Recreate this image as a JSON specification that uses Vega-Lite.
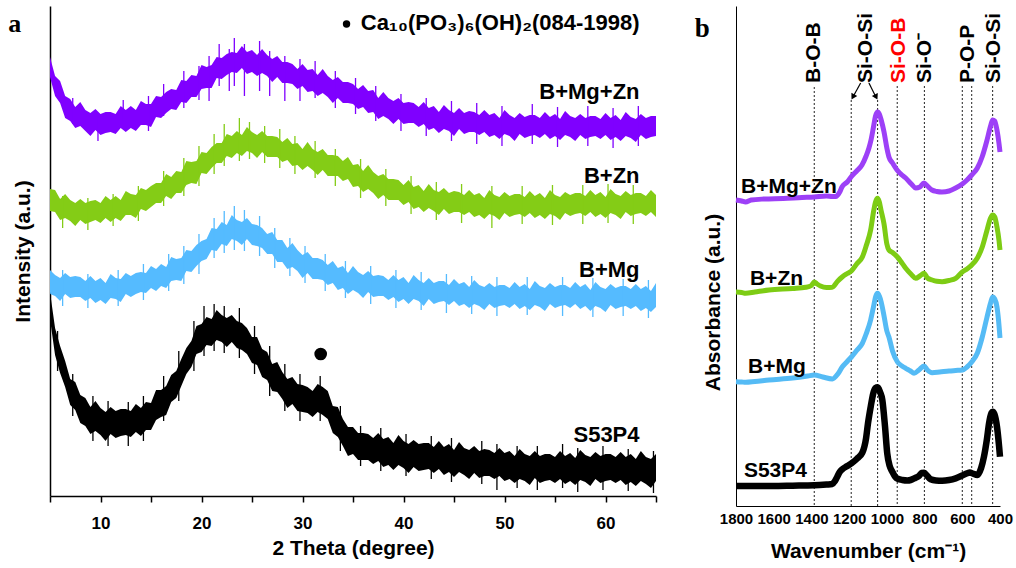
{
"$schema": "https://vega.github.io/schema/vega-lite/v6.json",
"padding": {"left": 8, "top": 6, "right": 5, "bottom": 5},
"bounds": "flush",
"spacing": 80,
"config": {"view": {"stroke": null}, "font": "Liberation Sans",
  "axis": {"domainColor": "black", "labelColor": "black", "titleColor": "black", "labelFont": "Liberation Sans", "titleFont": "Liberation Sans", "labelFontWeight": "bold", "titleFontWeight": "bold", "grid": false, "labelFlush": false}},
"datasets": {
"xP": [{"t":5,"v":419,"v2":439},{"t":5.5,"v":400,"v2":420},{"t":6,"v":393,"v2":415},{"t":6.5,"v":378,"v2":400},{"t":7,"v":375,"v2":397},{"t":7.5,"v":368,"v2":389},{"t":8,"v":370,"v2":394},{"t":8.5,"v":365,"v2":386},{"t":9,"v":360,"v2":383},{"t":9.5,"v":366,"v2":387},{"t":10,"v":361,"v2":382},{"t":10.5,"v":363,"v2":384},{"t":11,"v":364,"v2":384},{"t":11.5,"v":362,"v2":382},{"t":12,"v":368,"v2":390},{"t":12.5,"v":364,"v2":386},{"t":13,"v":368,"v2":390},{"t":13.5,"v":365,"v2":386},{"t":14,"v":371,"v2":395},{"t":14.5,"v":371,"v2":392},{"t":15,"v":369,"v2":392},{"t":15.5,"v":379,"v2":400},{"t":16,"v":378,"v2":399},{"t":16.5,"v":383,"v2":404},{"t":17,"v":387,"v2":407},{"t":17.5,"v":386,"v2":406},{"t":18,"v":394,"v2":416},{"t":18.5,"v":393,"v2":415},{"t":19,"v":399,"v2":421},{"t":19.5,"v":399,"v2":420},{"t":20,"v":407,"v2":431},{"t":20.5,"v":408,"v2":429},{"t":21,"v":408,"v2":431},{"t":21.5,"v":418,"v2":439},{"t":22,"v":417,"v2":438},{"t":22.5,"v":421,"v2":442},{"t":23,"v":424,"v2":444},{"t":23.5,"v":423,"v2":443},{"t":24,"v":428,"v2":450},{"t":24.5,"v":422,"v2":444},{"t":25,"v":424,"v2":446},{"t":25.5,"v":420,"v2":441},{"t":26,"v":423,"v2":447},{"t":26.5,"v":420,"v2":441},{"t":27,"v":414,"v2":437},{"t":27.5,"v":419,"v2":440},{"t":28,"v":413,"v2":434},{"t":28.5,"v":413,"v2":434},{"t":29,"v":412,"v2":432},{"t":29.5,"v":407,"v2":427},{"t":30,"v":410,"v2":432},{"t":30.5,"v":404,"v2":426},{"t":31,"v":405,"v2":427},{"t":31.5,"v":400,"v2":421},{"t":32,"v":403,"v2":427},{"t":32.5,"v":399,"v2":420},{"t":33,"v":393,"v2":416},{"t":33.5,"v":398,"v2":419},{"t":34,"v":393,"v2":414},{"t":34.5,"v":393,"v2":414},{"t":35,"v":392,"v2":412},{"t":35.5,"v":387,"v2":407},{"t":36,"v":389,"v2":411},{"t":36.5,"v":383,"v2":405},{"t":37,"v":384,"v2":406},{"t":37.5,"v":377,"v2":398},{"t":38,"v":380,"v2":404},{"t":38.5,"v":377,"v2":398},{"t":39,"v":372,"v2":395},{"t":39.5,"v":377,"v2":398},{"t":40,"v":372,"v2":393},{"t":40.5,"v":373,"v2":394},{"t":41,"v":373,"v2":393},{"t":41.5,"v":369,"v2":389},{"t":42,"v":372,"v2":394},{"t":42.5,"v":366,"v2":388},{"t":43,"v":368,"v2":390},{"t":43.5,"v":363,"v2":384},{"t":44,"v":367,"v2":391},{"t":44.5,"v":365,"v2":386},{"t":45,"v":360,"v2":383},{"t":45.5,"v":367,"v2":388},{"t":46,"v":362,"v2":383},{"t":46.5,"v":364,"v2":385},{"t":47,"v":364,"v2":384},{"t":47.5,"v":361,"v2":381},{"t":48,"v":364,"v2":386},{"t":48.5,"v":359,"v2":381},{"t":49,"v":361,"v2":383},{"t":49.5,"v":357,"v2":378},{"t":50,"v":362,"v2":386},{"t":50.5,"v":360,"v2":381},{"t":51,"v":355,"v2":378},{"t":51.5,"v":362,"v2":383},{"t":52,"v":358,"v2":379},{"t":52.5,"v":360,"v2":381},{"t":53,"v":361,"v2":381},{"t":53.5,"v":358,"v2":378},{"t":54,"v":362,"v2":384},{"t":54.5,"v":357,"v2":379},{"t":55,"v":360,"v2":382},{"t":55.5,"v":356,"v2":377},{"t":56,"v":361,"v2":385},{"t":56.5,"v":359,"v2":380},{"t":57,"v":355,"v2":378},{"t":57.5,"v":361,"v2":382},{"t":58,"v":357,"v2":378},{"t":58.5,"v":359,"v2":380},{"t":59,"v":360,"v2":380},{"t":59.5,"v":357,"v2":377},{"t":60,"v":361,"v2":383},{"t":60.5,"v":356,"v2":378},{"t":61,"v":359,"v2":381},{"t":61.5,"v":355,"v2":376},{"t":62,"v":360,"v2":384},{"t":62.5,"v":358,"v2":379},{"t":63,"v":354,"v2":377},{"t":63.5,"v":361,"v2":382},{"t":64,"v":357,"v2":378},{"t":64.5,"v":359,"v2":380},{"t":65,"v":360,"v2":380}],
"xG": [{"t":5,"v":285,"v2":307},{"t":5.5,"v":284,"v2":306},{"t":6,"v":276,"v2":297},{"t":6.5,"v":278,"v2":302},{"t":7,"v":275,"v2":296},{"t":7.5,"v":270,"v2":293},{"t":8,"v":276,"v2":297},{"t":8.5,"v":272,"v2":293},{"t":9,"v":274,"v2":295},{"t":9.5,"v":276,"v2":296},{"t":10,"v":273,"v2":293},{"t":10.5,"v":278,"v2":300},{"t":11,"v":274,"v2":296},{"t":11.5,"v":278,"v2":300},{"t":12,"v":275,"v2":296},{"t":12.5,"v":281,"v2":305},{"t":13,"v":281,"v2":302},{"t":13.5,"v":278,"v2":301},{"t":14,"v":287,"v2":308},{"t":14.5,"v":285,"v2":306},{"t":15,"v":289,"v2":310},{"t":15.5,"v":293,"v2":313},{"t":16,"v":293,"v2":313},{"t":16.5,"v":300,"v2":322},{"t":17,"v":297,"v2":319},{"t":17.5,"v":303,"v2":325},{"t":18,"v":303,"v2":324},{"t":18.5,"v":311,"v2":335},{"t":19,"v":313,"v2":334},{"t":19.5,"v":312,"v2":335},{"t":20,"v":323,"v2":344},{"t":20.5,"v":322,"v2":343},{"t":21,"v":328,"v2":349},{"t":21.5,"v":333,"v2":353},{"t":22,"v":333,"v2":353},{"t":22.5,"v":340,"v2":362},{"t":23,"v":338,"v2":360},{"t":23.5,"v":343,"v2":365},{"t":24,"v":340,"v2":361},{"t":24.5,"v":345,"v2":369},{"t":25,"v":343,"v2":364},{"t":25.5,"v":338,"v2":361},{"t":26,"v":344,"v2":365},{"t":26.5,"v":339,"v2":360},{"t":27,"v":339,"v2":360},{"t":27.5,"v":339,"v2":359},{"t":28,"v":334,"v2":354},{"t":28.5,"v":336,"v2":358},{"t":29,"v":330,"v2":352},{"t":29.5,"v":331,"v2":353},{"t":30,"v":326,"v2":347},{"t":30.5,"v":330,"v2":354},{"t":31,"v":326,"v2":347},{"t":31.5,"v":321,"v2":344},{"t":32,"v":326,"v2":347},{"t":32.5,"v":320,"v2":341},{"t":33,"v":320,"v2":341},{"t":33.5,"v":320,"v2":340},{"t":34,"v":315,"v2":335},{"t":34.5,"v":317,"v2":339},{"t":35,"v":309,"v2":331},{"t":35.5,"v":310,"v2":332},{"t":36,"v":304,"v2":325},{"t":36.5,"v":307,"v2":331},{"t":37,"v":303,"v2":324},{"t":37.5,"v":297,"v2":320},{"t":38,"v":301,"v2":322},{"t":38.5,"v":296,"v2":317},{"t":39,"v":296,"v2":317},{"t":39.5,"v":296,"v2":316},{"t":40,"v":291,"v2":311},{"t":40.5,"v":294,"v2":316},{"t":41,"v":287,"v2":309},{"t":41.5,"v":289,"v2":311},{"t":42,"v":284,"v2":305},{"t":42.5,"v":288,"v2":312},{"t":43,"v":285,"v2":306},{"t":43.5,"v":281,"v2":304},{"t":44,"v":287,"v2":308},{"t":44.5,"v":282,"v2":303},{"t":45,"v":284,"v2":305},{"t":45.5,"v":284,"v2":304},{"t":46,"v":281,"v2":301},{"t":46.5,"v":284,"v2":306},{"t":47,"v":279,"v2":301},{"t":47.5,"v":281,"v2":303},{"t":48,"v":277,"v2":298},{"t":48.5,"v":282,"v2":306},{"t":49,"v":280,"v2":301},{"t":49.5,"v":276,"v2":299},{"t":50,"v":283,"v2":304},{"t":50.5,"v":279,"v2":300},{"t":51,"v":281,"v2":302},{"t":51.5,"v":282,"v2":302},{"t":52,"v":279,"v2":299},{"t":52.5,"v":283,"v2":305},{"t":53,"v":278,"v2":300},{"t":53.5,"v":281,"v2":303},{"t":54,"v":277,"v2":298},{"t":54.5,"v":282,"v2":306},{"t":55,"v":280,"v2":301},{"t":55.5,"v":276,"v2":299},{"t":56,"v":283,"v2":304},{"t":56.5,"v":280,"v2":301},{"t":57,"v":282,"v2":303},{"t":57.5,"v":283,"v2":303},{"t":58,"v":280,"v2":300},{"t":58.5,"v":284,"v2":306},{"t":59,"v":279,"v2":301},{"t":59.5,"v":282,"v2":304},{"t":60,"v":278,"v2":299},{"t":60.5,"v":283,"v2":307},{"t":61,"v":281,"v2":302},{"t":61.5,"v":277,"v2":300},{"t":62,"v":284,"v2":305},{"t":62.5,"v":280,"v2":301},{"t":63,"v":282,"v2":303},{"t":63.5,"v":283,"v2":303},{"t":64,"v":280,"v2":300},{"t":64.5,"v":284,"v2":306},{"t":65,"v":279,"v2":301}],
"xB": [{"t":5,"v":202,"v2":226},{"t":5.5,"v":200,"v2":221},{"t":6,"v":195,"v2":218},{"t":6.5,"v":202,"v2":223},{"t":7,"v":198,"v2":219},{"t":7.5,"v":199,"v2":220},{"t":8,"v":199,"v2":219},{"t":8.5,"v":195,"v2":215},{"t":9,"v":198,"v2":220},{"t":9.5,"v":193,"v2":215},{"t":10,"v":196,"v2":218},{"t":10.5,"v":192,"v2":213},{"t":11,"v":198,"v2":222},{"t":11.5,"v":197,"v2":218},{"t":12,"v":194,"v2":217},{"t":12.5,"v":202,"v2":223},{"t":13,"v":199,"v2":220},{"t":13.5,"v":202,"v2":223},{"t":14,"v":204,"v2":224},{"t":14.5,"v":203,"v2":223},{"t":15,"v":208,"v2":230},{"t":15.5,"v":205,"v2":227},{"t":16,"v":210,"v2":232},{"t":16.5,"v":208,"v2":229},{"t":17,"v":215,"v2":239},{"t":17.5,"v":216,"v2":237},{"t":18,"v":215,"v2":238},{"t":18.5,"v":225,"v2":246},{"t":19,"v":224,"v2":245},{"t":19.5,"v":230,"v2":251},{"t":20,"v":235,"v2":255},{"t":20.5,"v":237,"v2":257},{"t":21,"v":246,"v2":268},{"t":21.5,"v":245,"v2":267},{"t":22,"v":252,"v2":274},{"t":22.5,"v":250,"v2":271},{"t":23,"v":257,"v2":281},{"t":23.5,"v":255,"v2":276},{"t":24,"v":251,"v2":274},{"t":24.5,"v":257,"v2":278},{"t":25,"v":251,"v2":272},{"t":25.5,"v":250,"v2":271},{"t":26,"v":248,"v2":268},{"t":26.5,"v":242,"v2":262},{"t":27,"v":242,"v2":264},{"t":27.5,"v":234,"v2":256},{"t":28,"v":234,"v2":256},{"t":28.5,"v":227,"v2":248},{"t":29,"v":229,"v2":253},{"t":29.5,"v":225,"v2":246},{"t":30,"v":218,"v2":241},{"t":30.5,"v":223,"v2":244},{"t":31,"v":217,"v2":238},{"t":31.5,"v":217,"v2":238},{"t":32,"v":216,"v2":236},{"t":32.5,"v":211,"v2":231},{"t":33,"v":213,"v2":235},{"t":33.5,"v":206,"v2":228},{"t":34,"v":208,"v2":230},{"t":34.5,"v":202,"v2":223},{"t":35,"v":206,"v2":230},{"t":35.5,"v":203,"v2":224},{"t":36,"v":198,"v2":221},{"t":36.5,"v":204,"v2":225},{"t":37,"v":199,"v2":220},{"t":37.5,"v":200,"v2":221},{"t":38,"v":200,"v2":220},{"t":38.5,"v":196,"v2":216},{"t":39,"v":199,"v2":221},{"t":39.5,"v":194,"v2":216},{"t":40,"v":197,"v2":219},{"t":40.5,"v":192,"v2":213},{"t":41,"v":197,"v2":221},{"t":41.5,"v":195,"v2":216},{"t":42,"v":190,"v2":213},{"t":42.5,"v":197,"v2":218},{"t":43,"v":192,"v2":213},{"t":43.5,"v":194,"v2":215},{"t":44,"v":195,"v2":215},{"t":44.5,"v":191,"v2":211},{"t":45,"v":195,"v2":217},{"t":45.5,"v":190,"v2":212},{"t":46,"v":192,"v2":214},{"t":46.5,"v":188,"v2":209},{"t":47,"v":192,"v2":216},{"t":47.5,"v":190,"v2":211},{"t":48,"v":186,"v2":209},{"t":48.5,"v":192,"v2":213},{"t":49,"v":188,"v2":209},{"t":49.5,"v":190,"v2":211},{"t":50,"v":191,"v2":211},{"t":50.5,"v":188,"v2":208},{"t":51,"v":192,"v2":214},{"t":51.5,"v":187,"v2":209},{"t":52,"v":190,"v2":212},{"t":52.5,"v":186,"v2":207},{"t":53,"v":191,"v2":215},{"t":53.5,"v":189,"v2":210},{"t":54,"v":185,"v2":208},{"t":54.5,"v":192,"v2":213},{"t":55,"v":188,"v2":209},{"t":55.5,"v":190,"v2":211},{"t":56,"v":191,"v2":211},{"t":56.5,"v":188,"v2":208},{"t":57,"v":192,"v2":214},{"t":57.5,"v":187,"v2":209},{"t":58,"v":190,"v2":212},{"t":58.5,"v":185,"v2":206},{"t":59,"v":190,"v2":214},{"t":59.5,"v":188,"v2":209},{"t":60,"v":184,"v2":207},{"t":60.5,"v":191,"v2":212},{"t":61,"v":187,"v2":208},{"t":61.5,"v":189,"v2":210},{"t":62,"v":190,"v2":210},{"t":62.5,"v":187,"v2":207},{"t":63,"v":190,"v2":212},{"t":63.5,"v":185,"v2":207},{"t":64,"v":188,"v2":210},{"t":64.5,"v":184,"v2":205},{"t":65,"v":189,"v2":213}],
"xK": [{"t":5,"v":177,"v2":204},{"t":5.5,"v":141,"v2":168},{"t":6,"v":123,"v2":150},{"t":6.5,"v":109,"v2":135},{"t":7,"v":91,"v2":117},{"t":7.5,"v":86,"v2":114},{"t":8,"v":73,"v2":101},{"t":8.5,"v":70,"v2":98},{"t":9,"v":62,"v2":89},{"t":9.5,"v":65,"v2":95},{"t":10,"v":61,"v2":88},{"t":10.5,"v":55,"v2":84},{"t":11,"v":62,"v2":89},{"t":11.5,"v":58,"v2":85},{"t":12,"v":60,"v2":87},{"t":12.5,"v":61,"v2":87},{"t":13,"v":59,"v2":85},{"t":13.5,"v":64,"v2":92},{"t":14,"v":60,"v2":88},{"t":14.5,"v":66,"v2":94},{"t":15,"v":66,"v2":93},{"t":15.5,"v":76,"v2":106},{"t":16,"v":79,"v2":106},{"t":16.5,"v":81,"v2":110},{"t":17,"v":94,"v2":121},{"t":17.5,"v":98,"v2":125},{"t":18,"v":110,"v2":137},{"t":18.5,"v":122,"v2":148},{"t":19,"v":129,"v2":155},{"t":19.5,"v":142,"v2":170},{"t":20,"v":144,"v2":172},{"t":20.5,"v":151,"v2":179},{"t":21,"v":150,"v2":177},{"t":21.5,"v":156,"v2":186},{"t":22,"v":154,"v2":181},{"t":22.5,"v":149,"v2":178},{"t":23,"v":154,"v2":181},{"t":23.5,"v":148,"v2":175},{"t":24,"v":146,"v2":173},{"t":24.5,"v":142,"v2":168},{"t":25,"v":133,"v2":159},{"t":25.5,"v":131,"v2":159},{"t":26,"v":119,"v2":147},{"t":26.5,"v":116,"v2":144},{"t":27,"v":105,"v2":132},{"t":27.5,"v":104,"v2":134},{"t":28,"v":97,"v2":124},{"t":28.5,"v":88,"v2":117},{"t":29,"v":92,"v2":119},{"t":29.5,"v":85,"v2":112},{"t":30,"v":84,"v2":111},{"t":30.5,"v":83,"v2":109},{"t":31,"v":79,"v2":105},{"t":31.5,"v":84,"v2":112},{"t":32,"v":81,"v2":109},{"t":32.5,"v":77,"v2":105},{"t":33,"v":63,"v2":90},{"t":33.5,"v":59,"v2":89},{"t":34,"v":50,"v2":77},{"t":34.5,"v":40,"v2":69},{"t":35,"v":42,"v2":69},{"t":35.5,"v":36,"v2":63},{"t":36,"v":36,"v2":63},{"t":36.5,"v":36,"v2":62},{"t":37,"v":32,"v2":58},{"t":37.5,"v":35,"v2":63},{"t":38,"v":29,"v2":57},{"t":38.5,"v":31,"v2":59},{"t":39,"v":26,"v2":53},{"t":39.5,"v":31,"v2":61},{"t":40,"v":28,"v2":55},{"t":40.5,"v":23,"v2":52},{"t":41,"v":29,"v2":56},{"t":41.5,"v":25,"v2":52},{"t":42,"v":26,"v2":53},{"t":42.5,"v":27,"v2":53},{"t":43,"v":23,"v2":49},{"t":43.5,"v":27,"v2":55},{"t":44,"v":21,"v2":49},{"t":44.5,"v":24,"v2":52},{"t":45,"v":19,"v2":46},{"t":45.5,"v":24,"v2":54},{"t":46,"v":21,"v2":48},{"t":46.5,"v":17,"v2":46},{"t":47,"v":23,"v2":50},{"t":47.5,"v":18,"v2":45},{"t":48,"v":20,"v2":47},{"t":48.5,"v":20,"v2":46},{"t":49,"v":17,"v2":43},{"t":49.5,"v":20,"v2":48},{"t":50,"v":15,"v2":43},{"t":50.5,"v":17,"v2":45},{"t":51,"v":13,"v2":40},{"t":51.5,"v":17,"v2":47},{"t":52,"v":15,"v2":42},{"t":52.5,"v":11,"v2":40},{"t":53,"v":18,"v2":45},{"t":53.5,"v":13,"v2":40},{"t":54,"v":15,"v2":42},{"t":54.5,"v":16,"v2":42},{"t":55,"v":13,"v2":39},{"t":55.5,"v":17,"v2":45},{"t":56,"v":12,"v2":40},{"t":56.5,"v":15,"v2":43},{"t":57,"v":11,"v2":38},{"t":57.5,"v":16,"v2":46},{"t":58,"v":14,"v2":41},{"t":58.5,"v":10,"v2":39},{"t":59,"v":17,"v2":44},{"t":59.5,"v":13,"v2":40},{"t":60,"v":15,"v2":42},{"t":60.5,"v":16,"v2":42},{"t":61,"v":13,"v2":39},{"t":61.5,"v":16,"v2":44},{"t":62,"v":11,"v2":39},{"t":62.5,"v":14,"v2":42},{"t":63,"v":10,"v2":37},{"t":63.5,"v":15,"v2":45},{"t":64,"v":12,"v2":39},{"t":64.5,"v":8,"v2":37},{"t":65,"v":15,"v2":42}],
"sP": [{"t":7.25,"v":372,"v2":398},{"t":9.75,"v":355,"v2":380},{"t":12.25,"v":372,"v2":396},{"t":14.75,"v":365,"v2":400},{"t":16.25,"v":380,"v2":412},{"t":18.25,"v":388,"v2":425},{"t":19.75,"v":396,"v2":430},{"t":20.75,"v":395,"v2":440},{"t":21.75,"v":410,"v2":452},{"t":22.75,"v":405,"v2":447},{"t":23.25,"v":410,"v2":458},{"t":24.25,"v":400,"v2":452},{"t":25.75,"v":405,"v2":455},{"t":26.75,"v":400,"v2":445},{"t":28.25,"v":395,"v2":440},{"t":29.75,"v":395,"v2":437},{"t":31.25,"v":398,"v2":435},{"t":33.25,"v":388,"v2":425},{"t":35.25,"v":382,"v2":418},{"t":37.25,"v":375,"v2":410},{"t":39.75,"v":365,"v2":402},{"t":42.25,"v":360,"v2":398},{"t":44.75,"v":355,"v2":395},{"t":47.25,"v":352,"v2":393},{"t":49.75,"v":350,"v2":390},{"t":52.75,"v":352,"v2":392},{"t":55.25,"v":349,"v2":389},{"t":58.25,"v":350,"v2":390},{"t":60.75,"v":348,"v2":388},{"t":63.25,"v":350,"v2":390}],
"sG": [{"t":6.25,"v":268,"v2":300},{"t":8.75,"v":266,"v2":298},{"t":11.25,"v":270,"v2":302},{"t":13.75,"v":275,"v2":310},{"t":16.25,"v":290,"v2":325},{"t":18.25,"v":300,"v2":338},{"t":19.75,"v":310,"v2":350},{"t":21.25,"v":322,"v2":362},{"t":22.25,"v":330,"v2":372},{"t":23.75,"v":335,"v2":378},{"t":24.75,"v":337,"v2":374},{"t":26.25,"v":333,"v2":370},{"t":27.75,"v":328,"v2":367},{"t":29.25,"v":322,"v2":360},{"t":31.25,"v":318,"v2":355},{"t":33.25,"v":310,"v2":347},{"t":35.75,"v":298,"v2":337},{"t":38.25,"v":290,"v2":327},{"t":40.75,"v":282,"v2":320},{"t":43.25,"v":276,"v2":314},{"t":45.75,"v":273,"v2":312},{"t":48.75,"v":268,"v2":310},{"t":51.75,"v":272,"v2":310},{"t":54.75,"v":271,"v2":311},{"t":57.75,"v":272,"v2":311},{"t":60.25,"v":273,"v2":312},{"t":62.75,"v":272,"v2":311}],
"sB": [{"t":6.25,"v":190,"v2":226},{"t":8.75,"v":188,"v2":222},{"t":11.75,"v":190,"v2":226},{"t":14.25,"v":196,"v2":232},{"t":16.75,"v":205,"v2":242},{"t":18.25,"v":212,"v2":250},{"t":19.75,"v":222,"v2":262},{"t":21.25,"v":238,"v2":278},{"t":22.25,"v":243,"v2":285},{"t":23.25,"v":246,"v2":290},{"t":24.25,"v":245,"v2":286},{"t":25.75,"v":240,"v2":280},{"t":27.25,"v":228,"v2":268},{"t":28.75,"v":220,"v2":258},{"t":30.25,"v":213,"v2":250},{"t":32.25,"v":205,"v2":242},{"t":34.25,"v":198,"v2":235},{"t":36.75,"v":192,"v2":230},{"t":39.25,"v":188,"v2":226},{"t":41.75,"v":186,"v2":224},{"t":44.25,"v":183,"v2":222},{"t":46.75,"v":182,"v2":220},{"t":49.25,"v":180,"v2":219},{"t":52.25,"v":181,"v2":219},{"t":55.75,"v":180,"v2":219},{"t":58.75,"v":179,"v2":218},{"t":61.75,"v":180,"v2":217},{"t":64.25,"v":178,"v2":216}],
"sK": [{"t":5.75,"v":125,"v2":165},{"t":7.25,"v":80,"v2":122},{"t":9.25,"v":55,"v2":100},{"t":10.75,"v":50,"v2":95},{"t":12.75,"v":50,"v2":94},{"t":14.25,"v":55,"v2":100},{"t":16.25,"v":75,"v2":120},{"t":17.75,"v":95,"v2":145},{"t":19.25,"v":125,"v2":175},{"t":20.25,"v":140,"v2":190},{"t":21.25,"v":145,"v2":192},{"t":22.25,"v":143,"v2":190},{"t":23.75,"v":138,"v2":188},{"t":25.25,"v":122,"v2":170},{"t":26.75,"v":100,"v2":150},{"t":28.25,"v":85,"v2":132},{"t":29.75,"v":75,"v2":122},{"t":31.75,"v":75,"v2":120},{"t":33.75,"v":45,"v2":90},{"t":35.75,"v":30,"v2":70},{"t":37.75,"v":25,"v2":68},{"t":40.25,"v":20,"v2":62},{"t":42.75,"v":17,"v2":60},{"t":44.75,"v":14,"v2":58},{"t":47.75,"v":12,"v2":55},{"t":49.25,"v":6,"v2":52},{"t":51.25,"v":8,"v2":50},{"t":53.25,"v":6,"v2":50},{"t":55.75,"v":8,"v2":52},{"t":57.25,"v":4,"v2":48},{"t":59.75,"v":6,"v2":50},{"t":62.25,"v":5,"v2":47},{"t":64.75,"v":3,"v2":45}],
"fP": [{"w":1800,"v":306},{"w":1770,"v":305},{"w":1749,"v":304},{"w":1720,"v":306},{"w":1650,"v":307},{"w":1550,"v":307.5},{"w":1450,"v":308.5},{"w":1385,"v":309},{"w":1320,"v":310},{"w":1290,"v":309.5},{"w":1271,"v":309.5},{"w":1250,"v":314},{"w":1238,"v":319},{"w":1210,"v":324},{"w":1190,"v":329},{"w":1160,"v":335},{"w":1132,"v":341},{"w":1110,"v":350},{"w":1095,"v":358},{"w":1084,"v":366},{"w":1070,"v":380},{"w":1060,"v":390},{"w":1049,"v":394},{"w":1040,"v":392},{"w":1030,"v":386},{"w":1015,"v":374},{"w":1000,"v":358},{"w":989,"v":349},{"w":970,"v":343},{"w":946,"v":336},{"w":920,"v":331},{"w":900,"v":328},{"w":870,"v":322},{"w":847,"v":318},{"w":825,"v":319},{"w":803,"v":323},{"w":785,"v":320},{"w":761,"v":316},{"w":735,"v":314.5},{"w":708,"v":314},{"w":670,"v":315},{"w":635,"v":318},{"w":600,"v":322},{"w":575,"v":326},{"w":550,"v":331},{"w":520,"v":338},{"w":495,"v":349},{"w":470,"v":365},{"w":450,"v":380},{"w":439,"v":386},{"w":428,"v":385},{"w":416,"v":376},{"w":405,"v":362},{"w":400,"v":354}],
"fG": [{"w":1800,"v":214},{"w":1770,"v":213.5},{"w":1749,"v":212.7},{"w":1700,"v":214},{"w":1625,"v":216},{"w":1500,"v":217.5},{"w":1430,"v":218.7},{"w":1400,"v":220.5},{"w":1385,"v":224},{"w":1370,"v":222},{"w":1352,"v":220},{"w":1320,"v":218.5},{"w":1290,"v":218.7},{"w":1260,"v":225},{"w":1237,"v":229},{"w":1210,"v":232.5},{"w":1188,"v":235},{"w":1160,"v":242},{"w":1130,"v":249},{"w":1110,"v":260},{"w":1086,"v":276},{"w":1070,"v":295},{"w":1060,"v":304},{"w":1049,"v":307.7},{"w":1040,"v":304},{"w":1030,"v":295},{"w":1015,"v":282},{"w":1000,"v":262},{"w":989,"v":256},{"w":970,"v":253.5},{"w":944,"v":249},{"w":920,"v":243},{"w":900,"v":237.7},{"w":870,"v":231.5},{"w":847,"v":227.7},{"w":825,"v":230},{"w":803,"v":232.7},{"w":785,"v":228},{"w":760,"v":226},{"w":735,"v":224.7},{"w":707,"v":224.3},{"w":670,"v":225.5},{"w":635,"v":227.7},{"w":600,"v":234},{"w":575,"v":237},{"w":550,"v":241},{"w":520,"v":248},{"w":494,"v":259},{"w":470,"v":275},{"w":450,"v":288},{"w":439,"v":291},{"w":428,"v":289},{"w":416,"v":279},{"w":405,"v":265},{"w":400,"v":256}],
"fB": [{"w":1800,"v":124.3},{"w":1770,"v":124},{"w":1749,"v":123.7},{"w":1700,"v":124.5},{"w":1625,"v":126},{"w":1500,"v":128},{"w":1420,"v":130},{"w":1385,"v":131},{"w":1340,"v":129},{"w":1289,"v":127},{"w":1260,"v":132},{"w":1237,"v":139},{"w":1210,"v":144.5},{"w":1188,"v":149},{"w":1160,"v":155.5},{"w":1130,"v":162.7},{"w":1110,"v":172},{"w":1086,"v":186},{"w":1070,"v":200},{"w":1060,"v":209},{"w":1049,"v":212.7},{"w":1040,"v":210},{"w":1030,"v":204},{"w":1015,"v":190},{"w":1000,"v":175},{"w":989,"v":169},{"w":970,"v":155},{"w":944,"v":144},{"w":920,"v":140},{"w":900,"v":137.7},{"w":875,"v":135},{"w":856,"v":132.7},{"w":830,"v":136},{"w":803,"v":140},{"w":785,"v":136},{"w":760,"v":133.3},{"w":720,"v":134},{"w":670,"v":135},{"w":635,"v":135.5},{"w":600,"v":136},{"w":575,"v":139},{"w":550,"v":144},{"w":520,"v":153},{"w":494,"v":169},{"w":470,"v":188},{"w":450,"v":203},{"w":439,"v":209},{"w":428,"v":207},{"w":416,"v":199},{"w":405,"v":180},{"w":400,"v":168}],
"fK": [{"w":1800,"v":20},{"w":1700,"v":20},{"w":1607,"v":20},{"w":1500,"v":20.3},{"w":1385,"v":20.7},{"w":1320,"v":21.5},{"w":1290,"v":22},{"w":1275,"v":25},{"w":1263,"v":29.3},{"w":1250,"v":34},{"w":1237,"v":36.7},{"w":1210,"v":40},{"w":1188,"v":42.7},{"w":1160,"v":47},{"w":1130,"v":53.3},{"w":1110,"v":68},{"w":1100,"v":82.7},{"w":1085,"v":100},{"w":1072,"v":112.7},{"w":1060,"v":118},{"w":1049,"v":118.7},{"w":1036,"v":114},{"w":1024,"v":106},{"w":1010,"v":80},{"w":998,"v":52.7},{"w":985,"v":40},{"w":971,"v":34.3},{"w":950,"v":28},{"w":918,"v":26},{"w":890,"v":25.5},{"w":874,"v":26},{"w":850,"v":28},{"w":830,"v":30},{"w":815,"v":33},{"w":802,"v":33.3},{"w":790,"v":31},{"w":768,"v":26.7},{"w":740,"v":25.5},{"w":707,"v":25.3},{"w":670,"v":26},{"w":635,"v":27.7},{"w":600,"v":30.5},{"w":574,"v":32.7},{"w":560,"v":33.5},{"w":545,"v":32.5},{"w":520,"v":31},{"w":500,"v":38},{"w":485,"v":49.3},{"w":470,"v":66},{"w":458,"v":82.7},{"w":445,"v":93},{"w":439,"v":94.3},{"w":430,"v":92},{"w":416,"v":79.3},{"w":405,"v":60},{"w":400,"v":49.3}]
},
"hconcat": [
{
 "width": 606, "height": 490,
 "encoding": {
  "x": {"field": "t", "type": "quantitative", "scale": {"domain": [5, 65], "nice": false, "zero": false},
   "axis": {"title": "2 Theta (degree)", "values": [5,10,15,20,25,30,35,40,45,50,55,60,65], "labelExpr": "datum.value % 10 === 0 ? datum.label : ''", "tickSize": 6, "tickWidth": 1.5, "tickColor": "black", "domainWidth": 1.5, "labelFontSize": 17, "labelPadding": 13, "titleFontSize": 21, "titlePadding": 6}},
  "y": {"field": "v", "type": "quantitative", "scale": {"domain": [0, 490], "nice": false, "zero": false},
   "axis": {"title": "Intensity (a.u.)", "labels": false, "ticks": false, "domainWidth": 1.5, "titleFontSize": 21, "titlePadding": 17}}
 },
 "layer": [
  {"data": {"name": "xP"}, "mark": {"type": "area", "color": "#7f00ff", "opacity": 1}, "encoding": {"y2": {"field": "v2"}}},
  {"data": {"name": "sP"}, "mark": {"type": "rule", "color": "#7f00ff", "strokeWidth": 1.3}, "encoding": {"y2": {"field": "v2"}}},
  {"data": {"name": "xG"}, "mark": {"type": "area", "color": "#84cc16", "opacity": 1}, "encoding": {"y2": {"field": "v2"}}},
  {"data": {"name": "sG"}, "mark": {"type": "rule", "color": "#84cc16", "strokeWidth": 1.3}, "encoding": {"y2": {"field": "v2"}}},
  {"data": {"name": "xB"}, "mark": {"type": "area", "color": "#55bbff", "opacity": 1}, "encoding": {"y2": {"field": "v2"}}},
  {"data": {"name": "sB"}, "mark": {"type": "rule", "color": "#55bbff", "strokeWidth": 1.3}, "encoding": {"y2": {"field": "v2"}}},
  {"data": {"name": "xK"}, "mark": {"type": "area", "color": "#000000", "opacity": 1}, "encoding": {"y2": {"field": "v2"}}},
  {"data": {"name": "sK"}, "mark": {"type": "rule", "color": "#000000", "strokeWidth": 1.3}, "encoding": {"y2": {"field": "v2"}}},
  {"data": {"values": [{"t": 31.8, "v": 142}, {"t": 34.36, "v": 472}]}, "mark": {"type": "point", "filled": true, "color": "black", "opacity": 1}, "encoding": {"size": {"field": "t", "type": "quantitative", "scale": {"domain": [31.8, 34.36], "range": [160, 55]}, "legend": null}}},
  {"data": {"values": [{"t": 63.37, "v": 397, "label": "B+Mg+Zn"}, {"t": 63.37, "v": 313, "label": "B+Zn"}, {"t": 63.37, "v": 219, "label": "B+Mg"}, {"t": 63.37, "v": 54, "label": "S53P4"}]},
   "mark": {"type": "text", "align": "right", "baseline": "alphabetic", "fontSize": 22, "fontWeight": "bold", "color": "black"}, "encoding": {"text": {"field": "label"}}},
  {"data": {"values": [{"t": 63.37, "v": 466, "label": "Ca₁₀(PO₃)₆(OH)₂(084-1998)"}]},
   "mark": {"type": "text", "align": "right", "baseline": "alphabetic", "fontSize": 22, "fontWeight": "bold", "color": "black"}, "encoding": {"text": {"field": "label"}}},
  {"data": {"values": [{"t": 1.5, "v": 464, "label": "a"}]},
   "mark": {"type": "text", "align": "center", "baseline": "alphabetic", "fontSize": 26, "fontWeight": "bold", "font": "Liberation Serif", "color": "black"}, "encoding": {"text": {"field": "label"}}}
 ]
},
{
 "width": 264, "height": 500,
 "encoding": {
  "x": {"field": "w", "type": "quantitative", "scale": {"domain": [400, 1800], "reverse": true, "nice": false, "zero": false},
   "axis": {"title": "Wavenumber (cm⁻¹)", "values": [400,600,800,1000,1200,1400,1600,1800], "format": "d", "ticks": false, "tickSize": 0, "domainWidth": 1, "labelFontSize": 15, "labelPadding": 5, "titleFontSize": 21, "titlePadding": 14}},
  "y": {"field": "v", "type": "quantitative", "scale": {"domain": [0, 500], "nice": false, "zero": false},
   "axis": {"title": "Absorbance (a.u.)", "labels": false, "ticks": false, "domainWidth": 1, "titleFontSize": 21, "titlePadding": 13, "titleY": 296}}
 },
 "layer": [
  {"data": {"values": [{"w": 1385, "v": 419, "v2": 0}, {"w": 1189, "v": 406, "v2": 0}, {"w": 1049, "v": 406, "v2": 0}, {"w": 945, "v": 420, "v2": 0}, {"w": 801, "v": 420, "v2": 0}, {"w": 600, "v": 420, "v2": 0}, {"w": 550, "v": 420, "v2": 0}, {"w": 439, "v": 420, "v2": 0}]},
   "mark": {"type": "rule", "strokeDash": [2, 2], "strokeWidth": 1, "color": "#222222"}, "encoding": {"y2": {"field": "v2"}}},
  {"data": {"name": "fP"}, "mark": {"type": "line", "color": "#9d40f7", "strokeWidth": 5, "interpolate": "monotone"}, "encoding": {}},
  {"data": {"name": "fG"}, "mark": {"type": "line", "color": "#7dcc14", "strokeWidth": 5, "interpolate": "monotone"}, "encoding": {}},
  {"data": {"name": "fB"}, "mark": {"type": "line", "color": "#55bbf5", "strokeWidth": 5, "interpolate": "monotone"}, "encoding": {}},
  {"data": {"name": "fK"}, "mark": {"type": "line", "color": "#000000", "strokeWidth": 6.5, "interpolate": "monotone"}, "encoding": {}},
  {"data": {"values": [{"w": 1139, "v": 423, "w2": 1180, "v2": 409}, {"w": 1095, "v": 423, "w2": 1058, "v2": 409}]},
   "mark": {"type": "rule", "strokeWidth": 1.2, "color": "black"}, "encoding": {"x2": {"field": "w2"}, "y2": {"field": "v2"}}},
  {"data": {"values": [{"w": 1180, "v": 409}]}, "mark": {"type": "point", "shape": "triangle-up", "filled": true, "color": "black", "size": 45, "angle": 209, "opacity": 1}},
  {"data": {"values": [{"w": 1057, "v": 409}]}, "mark": {"type": "point", "shape": "triangle-up", "filled": true, "color": "black", "size": 45, "angle": 153, "opacity": 1}},
  {"data": {"values": [{"w": 1386, "v": 423, "label": "B-O-B"}, {"w": 1108, "v": 423, "label": "Si-O-Si"}, {"w": 798, "v": 423, "label": "Si-O⁻"}, {"w": 572, "v": 423, "label": "P-O-P"}, {"w": 432, "v": 423, "label": "Si-O-Si"}]},
   "mark": {"type": "text", "angle": 270, "align": "left", "baseline": "middle", "fontSize": 21, "fontWeight": "bold", "color": "black"}, "encoding": {"text": {"field": "label"}}},
  {"data": {"values": [{"w": 936, "v": 423, "label": "Si-O-B"}]},
   "mark": {"type": "text", "angle": 270, "align": "left", "baseline": "middle", "fontSize": 21, "fontWeight": "bold", "color": "#ff0000"}, "encoding": {"text": {"field": "label"}}},
  {"data": {"values": [{"w": 1773, "v": 313, "label": "B+Mg+Zn"}, {"w": 1726, "v": 221, "label": "B+Zn"}, {"w": 1736, "v": 133, "label": "B+Mg"}, {"w": 1758, "v": 29, "label": "S53P4"}]},
   "mark": {"type": "text", "align": "left", "baseline": "alphabetic", "fontSize": 21, "fontWeight": "bold", "color": "black"}, "encoding": {"text": {"field": "label"}}},
  {"data": {"values": [{"w": 1979, "v": 469, "label": "b"}]},
   "mark": {"type": "text", "align": "center", "baseline": "alphabetic", "fontSize": 27, "fontWeight": "bold", "font": "Liberation Serif", "color": "black"}, "encoding": {"text": {"field": "label"}}}
 ]
}
]
}
